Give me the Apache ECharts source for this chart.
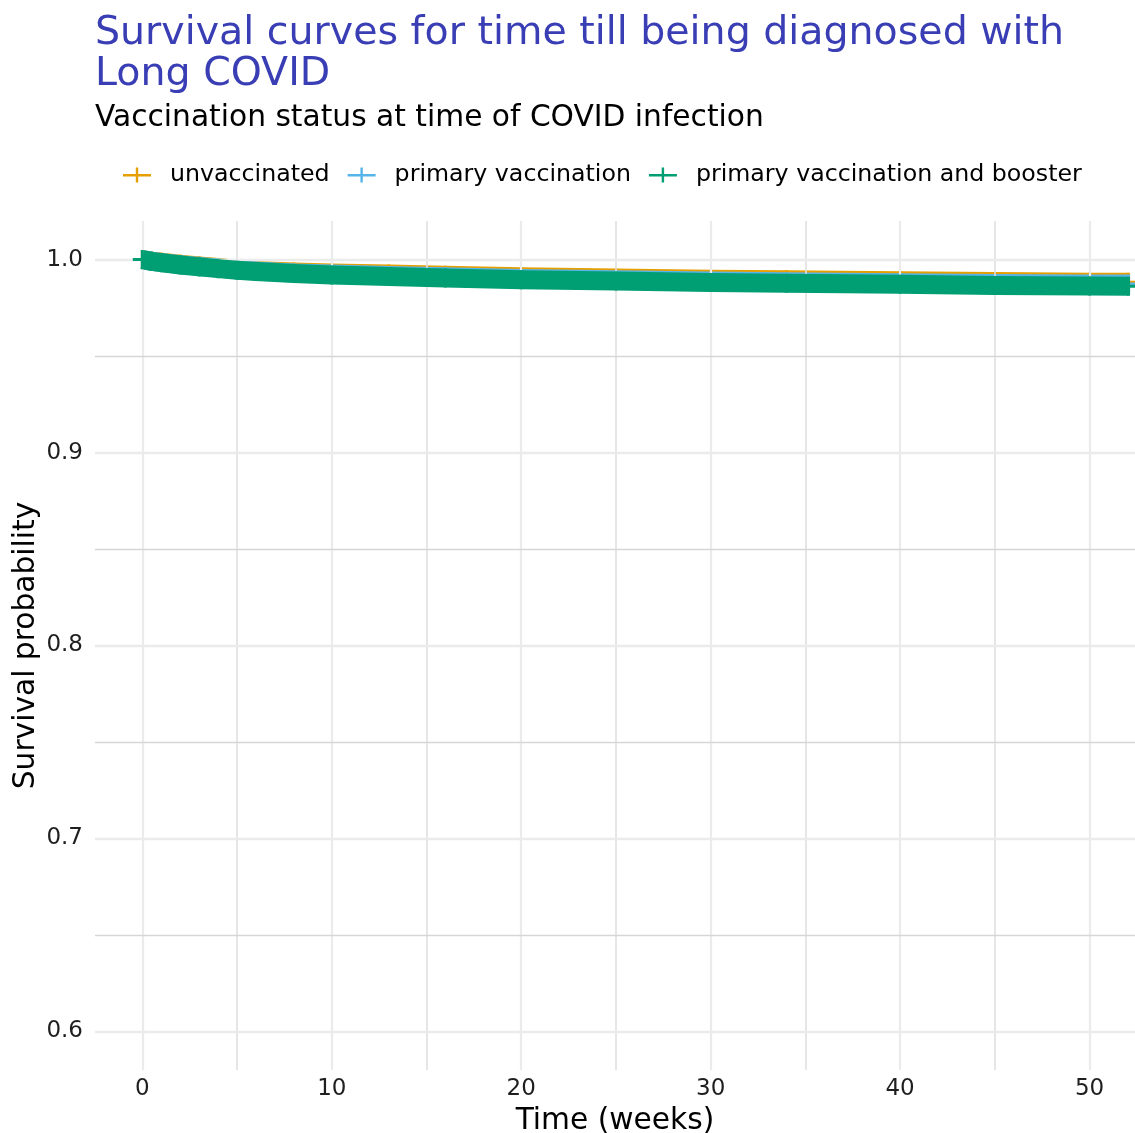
<!DOCTYPE html>
<html>
<head>
<meta charset="utf-8">
<script src="https://cdn.jsdelivr.net/npm/echarts@6/dist/echarts.min.js"></script>
<style>
html,body{margin:0;padding:0;background:#fff;}
#chart{width:1135px;height:1133px;}
</style>
</head>
<body>
<div id="chart"></div>
<script>
// ---- data ----
var groupNames = ['unvaccinated', 'primary vaccination', 'primary vaccination and booster'];
var groupColors = ['#E69F00', '#56B4E9', '#009E73'];
var timeWeeks = [0, 0.5, 1, 2, 3, 4, 5, 6, 8, 10, 13, 16, 20, 25, 30, 34, 40, 45, 50, 52.06];
var survUnvaccinated = [1.0, 0.9992, 0.9986, 0.9976, 0.9967, 0.9959, 0.9950, 0.9944, 0.9936, 0.9931, 0.9925, 0.9919, 0.9911, 0.9905, 0.9898, 0.9895, 0.9890, 0.9886, 0.9883, 0.9882];
var survPrimary = [1.0, 0.9991, 0.9985, 0.9974, 0.9965, 0.9956, 0.9947, 0.9941, 0.9931, 0.9925, 0.9918, 0.9911, 0.9902, 0.9896, 0.9889, 0.9885, 0.9880, 0.9876, 0.9874, 0.9874];
var survBooster = [1.0, 0.9991, 0.9984, 0.9972, 0.9962, 0.9953, 0.9945, 0.9938, 0.9928, 0.9920, 0.9913, 0.9905, 0.9896, 0.9889, 0.9881, 0.9877, 0.9872, 0.9866, 0.9863, 0.9862];
var xMajorTicks = [0, 10, 20, 30, 40, 50];
var xMinorTicks = [5, 15, 25, 35, 45];
var yMajorTicks = [0.6, 0.7, 0.8, 0.9, 1.0];
var yMinorTicks = [0.65, 0.75, 0.85, 0.95];

var survSeries = [survUnvaccinated, survPrimary, survBooster];
var plusPath = 'path://M0,8 L8,8 L8,0 L11,0 L11,8 L19,8 L19,11 L11,11 L11,19 L8,19 L8,11 L0,11 Z';
var legendIcon = 'path://M0,6.5 L28,6.5 L28,9 L0,9 Z M12.8,0 L15.2,0 L15.2,15 L12.8,15 Z';

function pairs(ys) { return timeWeeks.map(function (t, i) { return [t, ys[i]]; }); }

var gridLineData = [];
xMajorTicks.forEach(function (v) { gridLineData.push({ xAxis: v, lineStyle: { color: '#EBEBEB', width: 2.2 } }); });
xMinorTicks.forEach(function (v) { gridLineData.push({ xAxis: v, lineStyle: { color: '#E0E0E0', width: 1.6 } }); });
yMajorTicks.forEach(function (v) { gridLineData.push({ yAxis: v, lineStyle: { color: '#EBEBEB', width: 2.4 } }); });
yMinorTicks.forEach(function (v) { gridLineData.push({ yAxis: v, lineStyle: { color: '#D6D6D6', width: 1.3 } }); });

var series = [{
  type: 'line', name: '_grid', data: [], z: 1, silent: true,
  markLine: { silent: true, symbol: ['none', 'none'], label: { show: false }, animation: false,
    lineStyle: { type: 'solid' }, data: gridLineData }
}];
groupNames.forEach(function (name, i) {
  series.push({
    type: 'line', name: name, data: pairs(survSeries[i]), z: 3 + i,
    color: groupColors[i],
    lineStyle: { width: 19, color: groupColors[i], cap: 'butt', join: 'round' },
    symbol: plusPath, symbolSize: 19, showSymbol: true, showAllSymbol: true,
    itemStyle: { color: groupColors[i], opacity: 1 },
    emphasis: { disabled: true }, animation: false
  });
});

var chart = echarts.init(document.getElementById('chart'), null, { renderer: 'canvas' });
chart.setOption({
  backgroundColor: '#ffffff',
  animation: false,
  textStyle: { fontFamily: 'DejaVu Sans' },
  title: [
    { text: 'Survival curves for time till being diagnosed with\nLong COVID', left: 90, top: 8,
      textStyle: { color: '#3A3EB5', fontSize: 39.5, fontWeight: 'normal', lineHeight: 41, fontFamily: 'DejaVu Sans' } },
    { text: 'Vaccination status at time of COVID infection', left: 90, top: 96,
      textStyle: { color: '#000000', fontSize: 29.7, fontWeight: 'normal', lineHeight: 34, fontFamily: 'DejaVu Sans' } }
  ],
  legend: {
    data: groupNames, left: 118, top: 158, itemWidth: 28, itemHeight: 15, itemGap: 18,
    icon: legendIcon,
    textStyle: { fontSize: 23.7, color: '#000', padding: [0, 0, 0, 14], fontFamily: 'DejaVu Sans' }
  },
  grid: { left: 95, right: 0, top: 221, bottom: 63, containLabel: false, outerBoundsMode: 'none' },
  xAxis: {
    type: 'value', min: -2.5, max: 52.4, interval: 2.5,
    name: 'Time (weeks)', nameLocation: 'middle', nameGap: 35,
    nameTextStyle: { fontSize: 29.7, color: '#000', fontFamily: 'DejaVu Sans' },
    axisLine: { show: false }, axisTick: { show: false }, splitLine: { show: false },
    axisLabel: { fontSize: 23, color: '#1f1f1f', margin: 8, showMinLabel: true, showMaxLabel: true, hideOverlap: false,
      formatter: function (v) { return Math.abs(v / 10 - Math.round(v / 10)) < 1e-6 ? String(Math.round(v)) : ''; } }
  },
  yAxis: {
    type: 'value', min: 0.58, max: 1.02, interval: 0.02,
    name: 'Survival probability', nameLocation: 'middle', nameGap: 54, nameRotate: 90, nameMoveOverlap: false,
    nameTextStyle: { fontSize: 29.7, color: '#000', fontFamily: 'DejaVu Sans' },
    axisLine: { show: false }, axisTick: { show: false }, splitLine: { show: false },
    axisLabel: { fontSize: 23, color: '#1f1f1f', margin: 12, showMinLabel: true, showMaxLabel: true, hideOverlap: false,
      formatter: function (v) { return Math.abs(v * 10 - Math.round(v * 10)) < 1e-6 ? v.toFixed(1) : ''; } }
  },
  series: series
});
</script>
</body>
</html>
